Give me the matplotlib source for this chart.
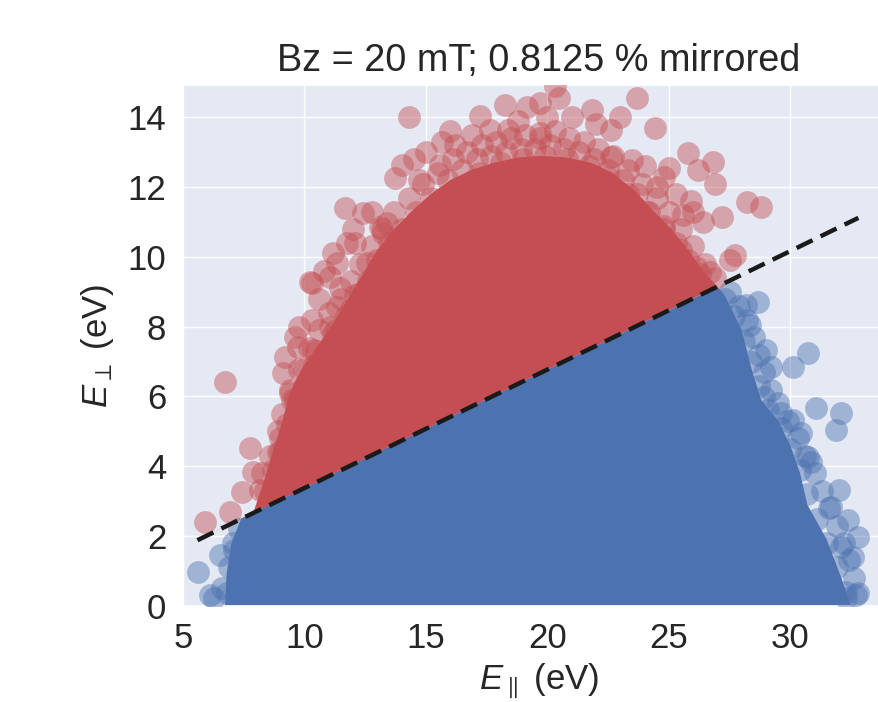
import matplotlib
matplotlib.use("Agg")
import matplotlib.pyplot as plt
import seaborn as sns

sns.set_theme(style="darkgrid")
plt.rcParams["font.family"] = ["Liberation Sans", "DejaVu Sans"]
plt.rcParams["mathtext.fontset"] = "custom"
plt.rcParams["mathtext.rm"] = "Liberation Sans"
plt.rcParams["mathtext.it"] = "Liberation Sans:italic"

RED = "#C44E52"
BLUE = "#4C72B0"

# mirror condition line
line_x = [5.6, 32.8]
line_y = [1.88, 11.12]

# envelope of the dense (saturated) part of each cloud
red_core_x = [7.9, 8.3, 8.7, 9.1, 9.4, 9.9, 10.5, 11.2, 11.8, 12.4, 13.0, 13.7,
              14.4, 15.2, 16.0, 16.9, 17.8, 18.8, 19.8, 20.8, 21.8, 22.7, 23.6,
              24.4, 25.1, 25.8, 26.4, 27.0]
red_core_y = [2.67, 3.5, 4.4, 5.3, 6.1, 6.8, 7.4, 8.1, 8.8, 9.5, 10.2, 10.8,
              11.3, 11.8, 12.2, 12.5, 12.7, 12.85, 12.9, 12.85, 12.7, 12.4, 11.9,
              11.3, 10.8, 10.2, 9.6, 9.15]
blue_core_x = [6.7, 6.8, 7.0, 7.4, 27.0, 27.3, 28.0, 28.4, 28.8, 29.5, 30.0, 30.4,
               30.7, 31.5, 32.1, 32.5, 32.5, 6.7]
blue_core_y = [-0.5, 0.9, 1.8, 2.50, 9.15, 8.9, 7.9, 6.8, 5.9, 5.3, 4.6, 3.8,
               2.9, 1.9, 0.8, 0.0, -0.5, -0.5]

# individual (sparse) events, mirrored
red_x = [14.31, 17.24, 18.27, 19.17, 19.71, 15.67, 16.2, 16.9, 17.65, 18.4, 14.02,
         13.73, 15.6, 14.7, 13.4, 19.7, 23.7, 24.45, 20.5, 21.85, 23.0, 22.6, 25.77,
         26.8, 26.2, 26.9, 25.0, 23.5, 22.6, 27.2, 26.0, 24.5, 28.2, 28.8, 27.74,
         27.5, 26.7, 20.3, 11.67, 12.4, 11.76, 12.1, 13.1, 13.24, 11.35, 11.06, 10.23,
         11.47, 12.58, 12.3, 10.3, 11.35, 11.06, 6.73, 10.3, 9.2, 9.74, 10.36, 9.4,
         9.12, 7.76, 8.9, 7.9, 8.26, 7.43, 6.94, 5.9, 8.17,
         8.6, 8.9, 9.1, 9.4, 9.8, 10.2, 10.6, 11.0, 11.5, 11.9, 12.3, 12.8, 13.2,
         13.7, 14.3, 14.9, 15.5, 16.1, 16.7, 17.3, 17.9, 18.5, 19.1, 19.7, 20.3,
         20.9, 21.5, 22.1, 22.7, 23.3, 23.9, 24.5, 25.0, 25.5, 26.0, 26.5, 26.9,
         9.0, 9.5, 10.0, 10.5, 11.2, 11.9, 12.6, 13.3, 14.0, 14.8, 15.6, 16.4,
         17.2, 18.1, 19.0, 19.9, 20.8, 21.7, 22.5, 23.3, 24.1, 24.8, 25.5, 26.1,
         8.4, 8.7, 9.0, 9.3, 9.6, 10.0, 10.4, 10.9, 11.3, 11.7, 12.1, 12.6, 13.0,
         13.5, 14.0, 14.6, 15.2, 15.9, 16.5, 17.1, 17.7, 18.3, 18.9, 19.5, 20.1,
         20.7, 21.3, 21.9, 22.5, 23.1, 23.7, 24.2, 24.8, 25.3, 25.8, 26.3,
         25.3, 25.9, 26.4, 25.6, 24.0, 24.8, 22.0, 21.0, 20.0, 18.8, 16.0, 15.0,
         14.5, 12.8, 12.0, 11.2, 10.8, 10.6, 9.8, 9.6]
red_y = [14.01, 14.04, 14.36, 14.3, 14.41, 13.3, 13.2, 13.5, 13.64, 13.64, 12.64,
         12.26, 12.64, 12.2, 10.97, 13.55, 14.56, 13.7, 14.56, 14.2, 14.0, 13.64, 12.98,
         12.72, 12.5, 12.1, 12.55, 12.78, 12.87, 11.15, 11.3, 12.0, 11.58, 11.43, 10.06,
         9.9, 9.57, 14.9, 11.4, 11.26, 10.4, 10.4, 10.86, 10.7, 9.83, 9.43, 9.28,
         9.1, 9.83, 8.97, 8.2, 8.57, 8.0, 6.42, 9.25, 7.13, 7.42, 7.33, 6.1,
         6.68, 4.53, 4.41, 3.84, 3.81, 3.27, 2.7, 2.41, 3.32,
         4.3, 5.0, 5.5, 6.2, 6.8, 7.4, 7.9, 8.4, 8.8, 9.3, 9.8, 10.3, 10.8,
         11.3, 11.7, 12.1, 12.4, 12.8, 13.0, 13.2, 13.3, 13.4, 13.5, 13.4, 13.6,
         13.4, 13.3, 13.1, 12.9, 12.5, 12.1, 11.7, 11.3, 10.8, 10.3, 9.8, 9.4,
         4.4, 5.9, 6.8, 7.3, 7.8, 8.5, 9.2, 9.9, 10.5, 11.0, 11.6, 12.0,
         12.4, 12.7, 12.8, 12.9, 12.8, 12.6, 12.3, 11.8, 11.3, 10.8, 10.2, 9.7,
         3.3, 3.9, 4.8, 5.2, 5.9, 6.3, 6.9, 7.3, 7.9, 8.3, 8.9, 9.3, 9.9,
         10.4, 10.8, 11.3, 11.7, 12.2, 12.5, 12.8, 12.9, 13.0, 13.1, 13.1, 13.2,
         13.1, 13.0, 12.8, 12.5, 12.2, 11.8, 11.3, 10.9, 10.4, 9.9, 9.5,
         11.8, 11.6, 11.0, 11.2, 12.6, 12.3, 13.8, 14.0, 14.0, 13.9, 13.6, 13.0,
         12.8, 11.3, 10.8, 10.1, 9.6, 8.8, 8.0, 7.7]

# individual (sparse) events, transmitted
blue_x = [5.62, 6.52, 6.11, 7.06, 7.55, 6.8, 6.28, 28.16, 28.69, 28.36, 28.98,
          30.71, 30.13, 29.19, 28.9, 31.04, 32.07, 31.86, 29.6, 30.13, 30.42, 30.71,
          31.99, 31.66, 30.83, 32.36, 32.77, 32.57, 32.8, 32.07, 32.3,
          6.6, 6.9, 7.1, 7.3, 27.5, 27.9, 28.2, 28.5, 28.7, 28.9, 29.2, 29.5, 29.9,
          30.3, 30.6, 31.0, 31.3, 31.6, 31.9, 32.2, 32.4, 32.6, 32.7,
          27.3, 27.7, 28.1, 28.4, 28.7, 29.1, 29.6, 30.0, 30.4, 30.7, 31.1, 31.5,
          31.9, 32.3]
blue_y = [0.97, 1.46, 0.32, 1.8, 1.75, 0.37, 0.23, 8.62, 8.71, 8.05, 7.33,
          7.25, 6.85, 6.85, 5.99, 5.67, 5.53, 5.04, 5.53, 5.33, 4.96, 4.27,
          3.32, 2.84, 4.13, 2.46, 1.98, 1.4, 0.37, 1.69, 0.23,
          0.5, 1.1, 1.6, 2.2, 9.0, 8.6, 8.2, 7.7, 7.2, 6.7, 6.2, 5.8, 5.3,
          4.8, 4.3, 3.8, 3.3, 2.8, 2.3, 1.8, 1.3, 0.8, 0.3,
          8.8, 8.3, 7.6, 7.0, 6.3, 5.6, 5.1, 4.5, 3.9, 3.2, 2.5, 1.8,
          1.1, 0.4]

fig = plt.figure(figsize=(8.79, 7.02), dpi=100)
ax = fig.add_axes([0.208, 0.137, 0.81, 0.742])
ax.set_facecolor("#E4E9F4")

ax.fill(blue_core_x, blue_core_y, color=BLUE, lw=0, zorder=2)
ax.scatter(blue_x, blue_y, s=270, color=BLUE, alpha=0.45, lw=0, zorder=3)
ax.fill(red_core_x + line_x[:1], red_core_y + line_y[:1], color=RED, lw=0, zorder=2)
ax.scatter(red_x, red_y, s=270, color=RED, alpha=0.45, lw=0, zorder=3)
ax.plot(line_x, line_y, "k--", lw=3.2, dashes=(4, 2), zorder=4)

ax.set_xlim(5, 34.3)
ax.set_ylim(0, 14.93)
ax.set_xticks([5, 10, 15, 20, 25, 30])
ax.set_yticks([0, 2, 4, 6, 8, 10, 12, 14])
ax.tick_params(labelsize=25, colors="#262626", pad=6)
ax.set_xlabel(r"$E_\parallel$ (eV)", fontsize=25, color="#262626", labelpad=4)
ax.set_ylabel(r"$E_\perp$ (eV)", fontsize=25, color="#262626", labelpad=8)
ax.set_title("Bz = 20 mT; 0.8125 % mirrored", fontsize=27.3, pad=10, color="#262626")

fig.savefig("out.png", dpi=100)
